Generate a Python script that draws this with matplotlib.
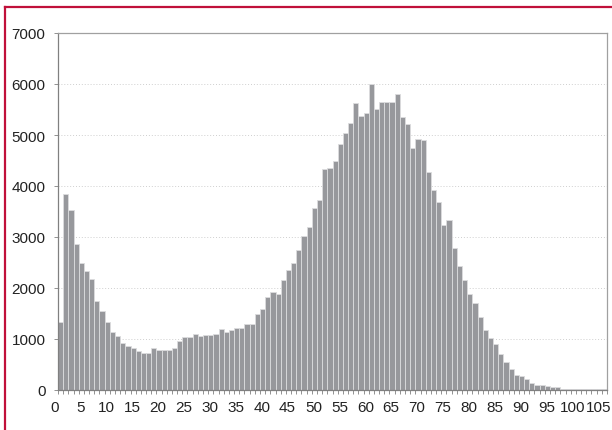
import matplotlib
matplotlib.use("Agg")
import matplotlib.pyplot as plt
import matplotlib.transforms as mtransforms
import numpy as np
from matplotlib.lines import Line2D

plt.rcParams['font.family'] = ['Liberation Sans', 'DejaVu Sans']

# counts per bin (bin k covers [k, k+1))
counts = [
    1330, 3840, 3520, 2860, 2500, 2330, 2180, 1750, 1540, 1330,
    1145, 1055, 930, 865, 825, 765, 720, 720, 825, 780,
    780, 780, 825, 955, 1035, 1035, 1100, 1060, 1075, 1075,
    1105, 1200, 1145, 1175, 1220, 1220, 1290, 1290, 1485, 1595,
    1830, 1930, 1890, 2155, 2345, 2500, 2745, 3020, 3205, 3560,
    3725, 4330, 4350, 4490, 4830, 5040, 5230, 5620, 5375, 5440,
    5995, 5505, 5640, 5640, 5640, 5810, 5360, 5210, 4750, 4915,
    4895, 4275, 3915, 3695, 3230, 3335, 2790, 2430, 2155, 1890,
    1700, 1430, 1170, 1015, 910, 700, 555, 420, 290, 270,
    220, 145, 105, 105, 70, 50, 50, 20, 20, 20,
    20, 10, 10, 10, 10, 20,
]
tick_vals = list(range(0, 106, 5))
tick_labels = [str(v) for v in tick_vals]
y_ticks = [0, 1000, 2000, 3000, 4000, 5000, 6000, 7000]

fig = plt.figure(figsize=(6.12, 4.31), dpi=100)
ax = fig.add_axes([58 / 612, 1 - 391 / 431, 549 / 612, 357 / 431])

x = np.arange(len(counts)) + 0.5
ax.bar(x, counts, width=1.0, color='#97989c', edgecolor='#dcdcde', linewidth=0.6, zorder=2)

ax.set_xlim(0, len(counts))
ax.set_ylim(0, 7000)
ax.set_yticks(y_ticks)
ax.set_yticklabels([str(v) for v in y_ticks])
ax.set_xticks(tick_vals)
ax.set_xticklabels(tick_labels)
ax.set_xticks(np.arange(0, len(counts) + 1), minor=True)
ax.tick_params(axis='x', which='both', length=3, width=0.6, color='#808080',
               labelsize=11, labelcolor='#222222', pad=4)
ax.tick_params(axis='y', length=3, width=0.6, color='#808080',
               labelsize=11, labelcolor='#222222', pad=6)

# category labels sit a little left of the tick marks, as in the original
shift = mtransforms.ScaledTranslation(-3.5 / 100, 0, fig.dpi_scale_trans)
for lab in ax.get_xticklabels():
    lab.set_transform(lab.get_transform() + shift)

for y in y_ticks[1:-1]:
    ax.axhline(y, color='#cfcfcf', linestyle=(0, (1, 2)), linewidth=0.7, zorder=1)

ax.spines['left'].set_color('#808080')
ax.spines['bottom'].set_color('#808080')
ax.spines['top'].set_color('#a0a0a0')
ax.spines['right'].set_color('#a0a0a0')
for s in ax.spines.values():
    s.set_linewidth(0.9)

# red frame lines at top and left of the figure
fig.add_artist(Line2D([5 / 612, 1], [1 - 8 / 431, 1 - 8 / 431], color='#c0103a', linewidth=1.6,
                      transform=fig.transFigure))
fig.add_artist(Line2D([5 / 612, 5 / 612], [0, 1 - 8 / 431], color='#c0103a', linewidth=1.6,
                      transform=fig.transFigure))

fig.savefig('out.png', dpi=100)
